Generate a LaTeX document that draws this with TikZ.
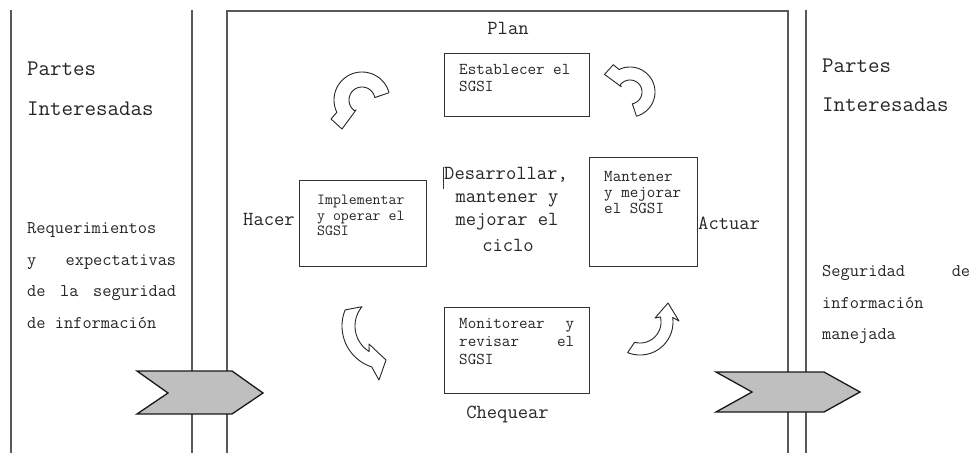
\documentclass[tikz,border=0pt]{standalone}
\usepackage{fontspec}
\begin{document}
\begin{tikzpicture}[x=1pt,y=-1pt,
  rule/.style={draw=black!65, line width=1.4pt},
  stage/.style={draw=black!80, line width=1.2pt, inner sep=0pt, anchor=north west},
  chevron/.style={draw=black!90, fill=black!25, line width=1.3pt, line join=miter},
  turn/.style={draw=black!85, fill=white, line width=0.9pt, line join=round},
  word/.style={inner sep=0pt, text=black!85, anchor=mid west},
  big/.style={word, font=\ttfamily\fontsize{22.3}{23}\selectfont},
  side/.style={word, font=\ttfamily\fontsize{17.9}{18}\selectfont},
  phase/.style={word, font=\ttfamily\fontsize{20}{21}\selectfont},
  small/.style={word, font=\ttfamily\fontsize{16.6}{17}\selectfont},
  smaller/.style={word, font=\ttfamily\fontsize{15.4}{16}\selectfont},
]
\useasboundingbox (0,0) rectangle (974,453);
\fill[white] (0,0) rectangle (974,453);

% vertical rules and the open frame of the cycle
\draw[rule] (11,10) -- (11,453);
\draw[rule] (192,10) -- (192,453);
\draw[rule] (227,453) -- (227,11) -- (788,11) -- (788,453);
\draw[rule] (806,10) -- (806,453);

% input / output chevrons
\draw[chevron] (137,371) -- (232,371) -- (263,393) -- (232,414) -- (137,414) -- (168,393) -- cycle;
\draw[chevron] (716,372) -- (824,372) -- (860,392) -- (824,412) -- (716,412) -- (752,392) -- cycle;

% stage boxes
\node[stage, minimum width=145pt, minimum height=63pt] (plan) at (444,53) {};
\node[stage, minimum width=127pt, minimum height=86pt] (hacer) at (299,180) {};
\node[stage, minimum width=108pt, minimum height=109pt] (actuar) at (589,157) {};
\node[stage, minimum width=145pt, minimum height=86pt] (check) at (444,307) {};

% curved block arrows of the cycle
\draw[turn] plot[domain=-15:-206,samples=40] ({362+28*cos(\x)},{100+28*sin(\x)})
  -- (331,119) -- (342,129) -- (356,110)
  -- plot[domain=-233:-11,samples=40] ({362+13*cos(\x)},{100+13*sin(\x)}) -- cycle;
\draw[turn] plot[domain=75:-116,samples=40] ({630+25*cos(\x)},{92+25*sin(\x)})
  -- (613.3,64.7) -- (604.5,74.4) -- (621.2,86.7)
  -- plot[domain=-143:79,samples=40] ({630+12*cos(\x)},{92+12*sin(\x)}) -- cycle;
\draw[turn] plot[domain=202:108,samples=40] ({385+43*cos(\x)},{326+43*sin(\x)})
  -- (379,380) -- (386,360) -- (369,344)
  -- plot[domain=122:220,samples=40] ({385+30*cos(\x)},{326+30*sin(\x)}) -- cycle;
\draw[turn] plot[domain=112:-8,samples=40] ({640+33*cos(\x)},{322+33*sin(\x)})
  -- (679,321) -- (668,303) -- (655,318)
  -- plot[domain=-14:105,samples=40] ({640+21*cos(\x)},{322+21*sin(\x)}) -- cycle;

% side texts
\node[big] (pL1) at (27,73) {Partes};
\node[big] (pL2) at (27,113) {Interesadas};
\node[big] (pR1) at (822,70) {Partes};
\node[big] (pR2) at (822,109) {Interesadas};
\node[side] (rq1) at (27,231) {Requerimientos};
\node[side] (rq2) at (27,263) {\makebox[149pt][l]{y\hfill expectativas}};
\node[side] (rq3) at (27,294) {\makebox[149pt][l]{de\hfill la\hfill seguridad}};
\node[side] (rq4) at (27,326) {de información};
\node[side] (sg1) at (822,274) {\makebox[148pt][l]{Seguridad\hfill de}};
\node[side] (sg2) at (822,306) {información};
\node[side] (sg3) at (822,337) {manejada};

% phase labels
\node[phase, anchor=mid] (lplan) at (508,32) {Plan};
\node[phase] (lhacer) at (243,223) {Hacer};
\node[phase] (lactuar) at (698,227) {Actuar};
\node[phase, anchor=mid] (lcheck) at (507.5,416) {Chequear};

% centre caption with its text caret
\draw[black!80, line width=0.8pt] (443,167) -- (443,189);
\node[phase, anchor=mid] (c1) at (506,177) {Desarrollar,};
\node[phase, anchor=mid] (c2) at (507,200) {mantener y};
\node[phase, anchor=mid] (c3) at (507,223) {mejorar el};
\node[phase, anchor=mid] (c4) at (508,249) {ciclo};

% box texts
\node[small] (t11) at (459,72) {Establecer el};
\node[small] (t12) at (459,89) {SGSI};
\node[smaller] (t21) at (317,202) {Implementar};
\node[smaller] (t22) at (317,218) {y operar el};
\node[smaller] (t23) at (317,233) {SGSI};
\node[small] (t31) at (604,179) {Mantener};
\node[small] (t32) at (604,195) {y mejorar};
\node[small] (t33) at (604,211) {el SGSI};
\node[small] (t41) at (459,326) {\makebox[115pt][l]{Monitorear\hfill y}};
\node[small] (t42) at (459,344) {\makebox[115pt][l]{revisar\hfill el}};
\node[small] (t43) at (459,362) {SGSI};
\end{tikzpicture}
\end{document}
